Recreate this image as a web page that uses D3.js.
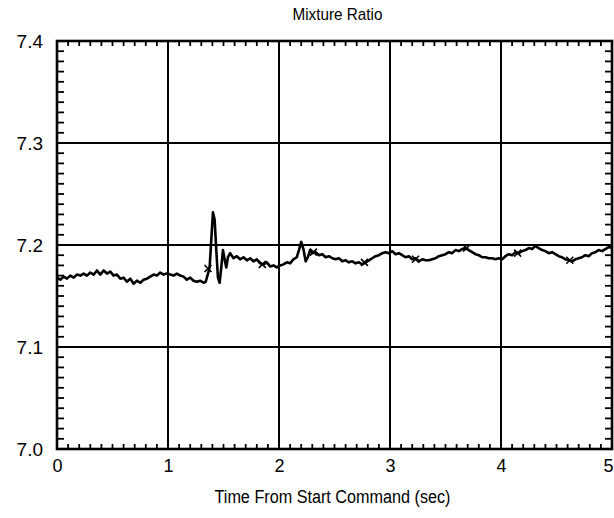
<!DOCTYPE html>
<html><head><meta charset="utf-8">
<script src="https://cdn.jsdelivr.net/npm/d3@7"></script>
<style>body{margin:0;background:#fff}svg{display:block}text{font-family:"Liberation Sans",Arial,Helvetica,sans-serif;fill:#000}</style>
</head><body><svg id="c" width="614" height="518"></svg>
<script>
const title = "Mixture Ratio";
const xTitle = "Time From Start Command (sec)";
const xTicks = [0,1,2,3,4,5];
const yTicks = [7.0,7.1,7.2,7.3,7.4];
const times = [0.00,0.03,0.06,0.09,0.12,0.15,0.18,0.21,0.24,0.27,0.30,0.33,0.36,0.39,0.42,0.45,0.48,0.51,0.54,0.57,0.60,0.63,0.66,0.69,0.72,0.75,0.78,0.81,0.84,0.87,0.90,0.93,0.96,0.99,
1.02,1.05,1.08,1.11,1.14,1.17,1.20,1.23,1.26,1.29,1.32,1.34,
1.36,1.375,1.39,1.405,1.42,1.435,1.45,1.465,1.48,1.495,1.51,1.525,1.54,1.56,1.59,1.62,1.65,1.68,1.71,1.74,1.77,1.80,1.83,1.86,1.89,1.92,1.95,1.98,
2.01,2.04,2.07,2.10,2.13,2.16,2.18,2.20,2.22,2.24,2.26,2.28,2.30,2.33,2.36,2.39,2.42,2.45,2.48,2.51,2.54,2.57,2.60,2.63,2.66,2.69,2.72,2.75,2.78,2.81,2.84,2.87,2.90,2.93,2.96,2.99,
3.02,3.05,3.08,3.11,3.14,3.17,3.20,3.23,3.26,3.29,3.32,3.35,3.38,3.41,3.44,3.47,3.50,3.53,3.56,3.59,3.62,3.65,3.68,3.71,3.74,3.77,3.80,3.83,3.86,3.89,3.92,3.95,3.98,
4.01,4.04,4.07,4.10,4.13,4.16,4.19,4.22,4.25,4.28,4.31,4.34,4.37,4.40,4.43,4.46,4.49,4.52,4.55,4.58,4.61,4.64,4.67,4.70,4.73,4.76,4.79,4.82,4.85,4.88,4.91,4.94,4.97,5.00];
const ratio = [7.168,7.166,7.169,7.167,7.170,7.168,7.171,7.170,7.172,7.170,7.173,7.171,7.175,7.171,7.175,7.172,7.174,7.170,7.171,7.167,7.168,7.164,7.167,7.162,7.165,7.163,7.166,7.167,7.169,7.171,7.170,7.173,7.171,7.172,
7.171,7.170,7.172,7.170,7.169,7.166,7.168,7.165,7.164,7.165,7.163,7.164,
7.172,7.178,7.205,7.232,7.225,7.195,7.168,7.163,7.178,7.195,7.186,7.178,7.188,7.192,7.187,7.189,7.186,7.188,7.185,7.187,7.184,7.186,7.182,7.181,7.183,7.179,7.180,7.178,
7.180,7.181,7.183,7.182,7.186,7.188,7.195,7.203,7.196,7.184,7.188,7.195,7.192,7.193,7.190,7.191,7.188,7.189,7.187,7.186,7.187,7.184,7.185,7.183,7.184,7.182,7.183,7.181,7.183,7.185,7.187,7.189,7.190,7.192,7.193,7.192,
7.194,7.191,7.192,7.190,7.188,7.189,7.186,7.187,7.184,7.186,7.185,7.185,7.186,7.187,7.189,7.190,7.191,7.193,7.192,7.195,7.194,7.196,7.197,7.195,7.193,7.191,7.190,7.188,7.188,7.187,7.187,7.186,7.187,
7.186,7.189,7.191,7.190,7.193,7.192,7.194,7.195,7.197,7.196,7.199,7.197,7.195,7.194,7.192,7.193,7.191,7.189,7.188,7.186,7.185,7.184,7.186,7.187,7.188,7.190,7.189,7.192,7.193,7.195,7.194,7.196,7.198,7.197];
const markT = [1.36,1.85,2.31,2.77,3.23,3.69,4.15,4.62];
const markV = [7.177,7.181,7.193,7.183,7.186,7.197,7.192,7.185];

const svg = d3.select("#c");
const L=57,R=612,T=41,B=449;
const x = d3.scaleLinear().domain([0,5]).range([L,R]);
const y = d3.scaleLinear().domain([7.0,7.4]).range([B,T]);

// gridlines
const g = svg.append("g").attr("stroke","#000").attr("stroke-width",2);
g.selectAll(".vx").data(xTicks.slice(1,-1)).enter().append("line")
 .attr("x1",d=>x(d)).attr("x2",d=>x(d)).attr("y1",T).attr("y2",B);
g.selectAll(".hy").data(yTicks.slice(1,-1)).enter().append("line")
 .attr("x1",L).attr("x2",R).attr("y1",d=>y(d)).attr("y2",d=>y(d));

// minor ticks
const xm = d3.range(0,51).map(i=>i/10);
const ym = d3.range(0,41).map(i=>7+i/100);
const mt = svg.append("g").attr("stroke","#000").attr("stroke-width",1.8);
xm.forEach(v=>{
  mt.append("line").attr("x1",x(v)).attr("x2",x(v)).attr("y1",B).attr("y2",B-5);
  mt.append("line").attr("x1",x(v)).attr("x2",x(v)).attr("y1",T).attr("y2",T+5);
});
ym.forEach(v=>{
  mt.append("line").attr("x1",L).attr("x2",L+7).attr("y1",y(v)).attr("y2",y(v));
  mt.append("line").attr("x1",R).attr("x2",R-7).attr("y1",y(v)).attr("y2",y(v));
});

// frame
svg.append("rect").attr("x",L).attr("y",T).attr("width",R-L).attr("height",B-T)
 .attr("fill","none").attr("stroke","#000").attr("stroke-width",2.6);

// axis labels
const xa = svg.append("g").attr("transform",`translate(0,${B})`)
 .call(d3.axisBottom(x).tickValues(xTicks).tickFormat(d3.format("d")).tickSize(0).tickPadding(10));
xa.select(".domain").remove();
xa.selectAll("text").attr("font-size",18).attr("font-family",null).attr("dy","0.71em")
 .attr("dx",d=>d===5?-4:0);
const ya = svg.append("g").attr("transform",`translate(${L},0)`)
 .call(d3.axisLeft(y).tickValues(yTicks).tickFormat(d3.format(".1f")).tickSize(0).tickPadding(14));
ya.select(".domain").remove();
ya.selectAll("text").attr("font-size",19).attr("font-family",null);

// line
const data = times.map((t,i)=>({t,v:ratio[i]}));
svg.append("path").datum(data).attr("fill","none").attr("stroke","#000").attr("stroke-width",2.6)
 .attr("stroke-linejoin","round")
 .attr("d",d3.line().x(d=>x(d.t)).y(d=>y(d.v)));

// markers
const ms = 3.5;
markT.forEach((t,i)=>{
  const cx=x(t), cy=y(markV[i]);
  svg.append("path").attr("d",`M${cx-ms},${cy-ms}L${cx+ms},${cy+ms}M${cx-ms},${cy+ms}L${cx+ms},${cy-ms}`)
   .attr("stroke","#000").attr("stroke-width",1.6);
});

svg.append("text").attr("x",(L+R)/2+3).attr("y",20).attr("text-anchor","middle").attr("font-size",17)
 .attr("textLength",90).attr("lengthAdjust","spacingAndGlyphs").text(title);
svg.append("text").attr("x",(L+R)/2-2).attr("y",503).attr("text-anchor","middle").attr("font-size",18)
 .attr("textLength",236).attr("lengthAdjust","spacingAndGlyphs").text(xTitle);
</script></body></html>
